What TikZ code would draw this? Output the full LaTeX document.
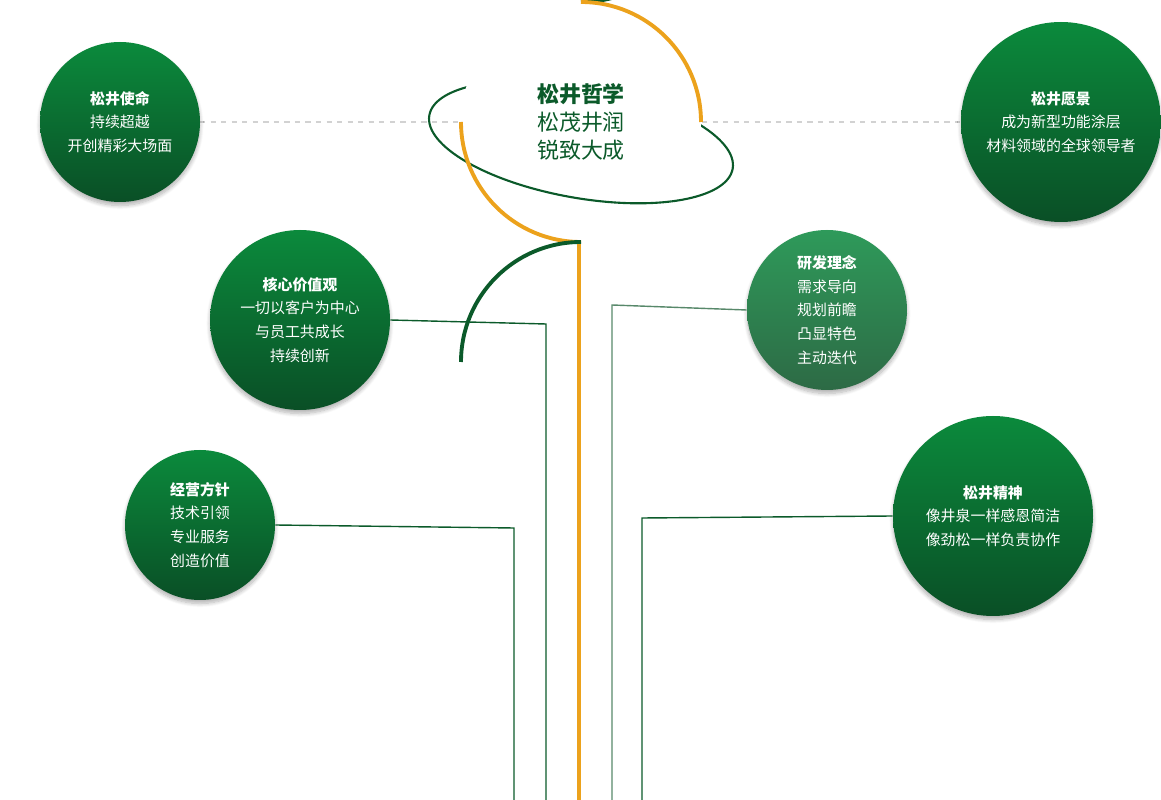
\documentclass[tikz,border=0pt]{standalone}
\usepackage{fontspec}
\setmainfont{Noto Sans CJK SC}
\usetikzlibrary{shadows.blur}
\definecolor{gtop}{HTML}{0B8A3C}
\definecolor{gbot}{HTML}{0A4F26}
\definecolor{ltop}{HTML}{2E9A5A}
\definecolor{lbot}{HTML}{2D6A45}
\definecolor{dg}{HTML}{0B5A2A}
\definecolor{org}{HTML}{ECA21C}
\tikzset{
 ball/.style={circle,top color=gtop,bottom color=gbot,text=white,align=center,font=\fontsize{8.5}{13.5}\selectfont,inner sep=0pt,blur shadow={shadow blur steps=8,shadow xshift=0pt,shadow yshift=-2pt,shadow opacity=30}},
 lball/.style={ball,top color=ltop,bottom color=lbot},
 conn/.style={draw=dg,line width=0.8pt},
 lconn/.style={draw=lbot!80,line width=0.8pt}
}
\begin{document}
\begin{tikzpicture}[x=0.02cm,y=-0.02cm]
\useasboundingbox (0,0) rectangle (1161,800);
% dotted
\draw[gray!35,dashed,line width=0.6pt] (200,122) -- (460,122) (702,122) -- (960,122);
% connectors
\coordinate (b1) at (546,800); \coordinate (b2) at (514,800);
\coordinate (b3) at (612,800); \coordinate (b4) at (642,800);
\node[ball,minimum size=180*0.02cm] (hx) at (300,320) {\textbf{核心价值观}\\一切以客户为中心\\与员工共成长\\持续创新};
\node[ball,minimum size=150*0.02cm] (jy) at (200,525) {\textbf{经营方针}\\技术引领\\专业服务\\创造价值};
\node[lball,minimum size=160*0.02cm] (yf) at (827,310) {\textbf{研发理念}\\需求导向\\规划前瞻\\凸显特色\\主动迭代};
\node[ball,minimum size=200*0.02cm] (js) at (993,516) {\textbf{松井精神}\\像井泉一样感恩简洁\\像劲松一样负责协作};
\node[ball,minimum size=160*0.02cm] (sm) at (120,122) {\textbf{松井使命}\\持续超越\\开创精彩大场面};
\node[ball,minimum size=200*0.02cm] (yj) at (1061,122) {\textbf{松井愿景}\\成为新型功能涂层\\材料领域的全球领导者};
\draw[conn] (hx.east) -- (546,324) -- (b1);
\draw[conn] (jy.east) -- (514,528) -- (b2);
\draw[lconn] (yf.west) -- (612,305) -- (b3);
\draw[conn] (js.west) -- (642,518) -- (b4);
% orange stem
\draw[org,line width=2.2pt] (579,242) -- (579,800);
% planet
\draw[dg,line width=1.2pt,rotate around={-10:(581,142)}] (581,142) ellipse [x radius=154,y radius=56];
\fill[white] (581,122) circle[radius=120];
\begin{scope}
\clip (581,122) circle[radius=120];
\clip (400,150) rectangle (760,260);
\draw[dg,line width=1.2pt,rotate around={-10:(581,142)}] (581,142) ellipse [x radius=154,y radius=56];
\end{scope}
\draw[org,line width=2.2pt] (461,122) arc[start angle=180,end angle=90,radius=120];
\draw[dg,line width=2.2pt] (581,2) arc[start angle=90,end angle=0,radius=120];
\draw[org,line width=2.2pt] (701,122) arc[start angle=0,end angle=-90,radius=120];
\draw[dg,line width=2.2pt] (581,242) arc[start angle=-90,end angle=-180,radius=120];
\node[text=dg,align=center,font=\fontsize{12.5}{16}\selectfont] (ct) at (581,122) {\textbf{松井哲学}\\松茂井润\\锐致大成};
\end{tikzpicture}
\end{document}
